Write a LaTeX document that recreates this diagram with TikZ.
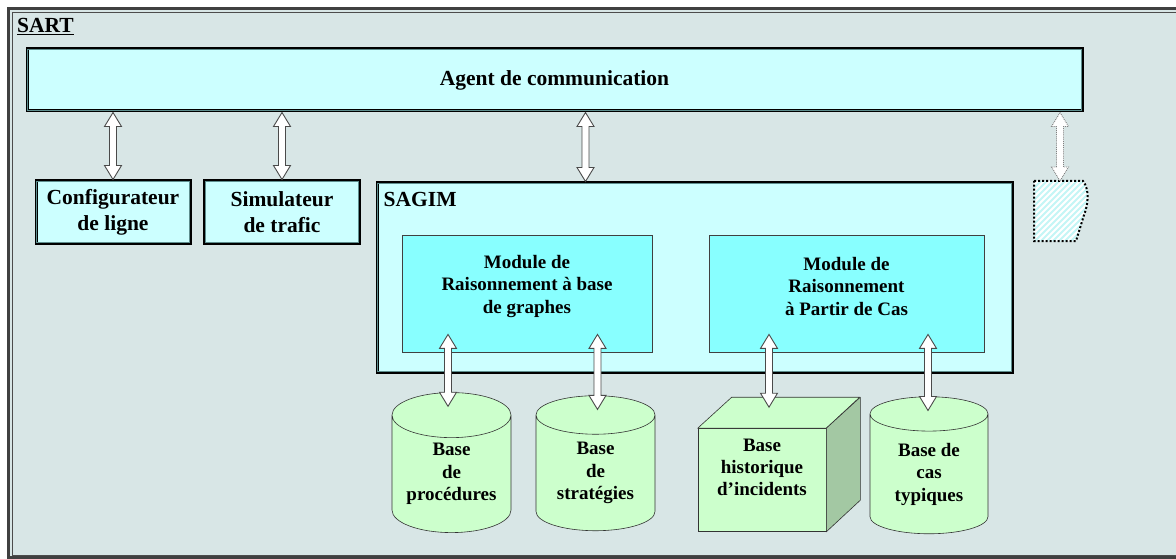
\documentclass[tikz,border=0pt]{standalone}
\usepackage{fontspec}
\setmainfont{Liberation Serif}
\usetikzlibrary{shapes.geometric,calc}
\definecolor{bgc}{HTML}{D8E6E6}
\definecolor{boxc}{HTML}{CCFFFF}
\definecolor{modc}{HTML}{88FFFF}
\definecolor{dbc}{HTML}{CCFFCC}
\definecolor{dbside}{HTML}{A3C8A3}
\definecolor{inl}{HTML}{5E8E8E}
\definecolor{arrl}{HTML}{4A4A4A}
\definecolor{hatchc}{HTML}{C4F6F6}
\tikzset{
  x=1pt, y=-1pt,
  bigfont/.style={font=\bfseries\fontsize{21.5}{26}\selectfont},
  smallfont/.style={font=\bfseries\fontsize{19}{22.5}\selectfont},
  dblbox/.style={draw=black, line width=3pt, fill=boxc, inner sep=0pt, bigfont, align=center},
  innerline/.style={draw=inl, line width=0.8pt},
  modbox/.style={draw=black!75, line width=0.8pt, fill=modc, inner sep=0pt},
  dbcyl/.style={cylinder, shape border rotate=90, aspect=0.5, draw=black!80, fill=dbc,
    line width=0.6pt, inner sep=0pt, smallfont, align=center},
  cubefront/.style={draw=black!80, fill=dbc, line width=0.6pt, inner sep=0pt,
    minimum width=128pt, minimum height=103pt},
  cubeface/.style={draw=black!80, line width=0.6pt, line join=round},
  blockarrow/.style={draw=arrl, line width=0.9pt, fill=white, line join=miter,
    to path={let \p1=(\tikztostart), \p2=(\tikztotarget) in
      (\x1,\y1) -- (\x1+8.5pt,\y1-14pt) -- (\x1+3.5pt,\y1-14pt) -- (\x1+3.5pt,\y2+14pt)
      -- (\x1+8.5pt,\y2+14pt) -- (\x1,\y2) -- (\x1-8.5pt,\y2+14pt) -- (\x1-3.5pt,\y2+14pt)
      -- (\x1-3.5pt,\y1-14pt) -- (\x1-8.5pt,\y1-14pt) -- cycle}},
  dotarrow/.style={blockarrow, draw=gray, densely dotted}
}
\begin{document}
\begin{tikzpicture}
\useasboundingbox (0,0) rectangle (1176,559);
% outer frame SART
\fill[bgc] (8,8) rectangle (1190,557);
\draw[draw=black!75, line width=2.5pt] (8.5,8.5) rectangle (1190,557.5);
\draw[draw=black!70, line width=0.8pt] (12,12) rectangle (1190,555.5);
\node[anchor=north west, bigfont, inner sep=0pt] (sart) at (17,18) {\underline{SART}};

% agent
\node[dblbox, minimum width=1055pt, minimum height=62pt] (agent) at (554.5,80) {Agent de communication};
% configurateur / simulateur
\node[dblbox, minimum width=154pt, minimum height=62pt] (conf) at (113,212) {Configurateur\\de ligne};
\node[dblbox, minimum width=155pt, minimum height=62pt] (simu) at (282,212) {Simulateur\\de trafic};
% SAGIM
\node[dblbox, minimum width=635pt, minimum height=189pt] (sagim) at (694.5,277.5) {};
\foreach \n in {agent,conf,simu,sagim}
  \draw[innerline] ([shift={(2.3,2.3)}]\n.north west) rectangle ([shift={(-2.3,-2.3)}]\n.south east);
\node[anchor=north west, bigfont, inner sep=0pt] (sagimlbl) at ([shift={(8,11)}]sagim.north west) {SAGIM};

% modules
\node[modbox, minimum width=250pt, minimum height=117pt,
  label={[smallfont, align=center, yshift=7pt]center:Module de\\Raisonnement à base\\de graphes}] (m1) at (527,293.5) {};
\node[modbox, minimum width=275pt, minimum height=117pt,
  label={[smallfont, align=center, yshift=7pt]center:Module de\\Raisonnement\\à Partir de Cas}] (m2) at (846.5,293.5) {};

% databases
\node[dbcyl, minimum width=119pt, minimum height=140pt] (c1) at (451.5,474) {Base\\de\\procédures};
\node[dbcyl, minimum width=119pt, minimum height=135pt] (c2) at (595.5,473) {Base\\de\\stratégies};
\node[dbcyl, minimum width=118pt, minimum height=137pt] (c4) at (929,474) {Base de\\cas\\typiques};

% cube
\node[cubefront, label={[smallfont, align=center, yshift=13pt, font=\bfseries\fontsize{19}{22}\selectfont]center:Base\\historique\\d’incidents}] (cube) at (762,480) {};
\draw[cubeface, fill=dbc] (cube.north west) -- ++(34,-31) -- ++(128,0) -- (cube.north east) -- cycle;
\draw[cubeface, fill=dbside] (cube.north east) -- ++(34,-31) -- ++(0,103) -- (cube.south east) -- cycle;

% external (dotted) component
\coordinate (ext) at (1060,181);
\fill[white] (1034,181) -- (1083,181) .. controls (1090,190) and (1088,205) .. (1084,215) -- (1076,241) -- (1034,241) -- cycle;
\begin{scope}
  \clip (1034,181) -- (1083,181) .. controls (1090,190) and (1088,205) .. (1084,215) -- (1076,241) -- (1034,241) -- cycle;
  \foreach \k in {0,6,...,180}
    \draw[hatchc, line width=1.8pt] (960+\k,250) -- ++(80,-80);
\end{scope}
\draw[black, line width=2pt, dotted] (1034,181) -- (1083,181) .. controls (1090,190) and (1088,205) .. (1084,215) -- (1076,241) -- (1034,241) -- cycle;

% arrows to agent
\draw[blockarrow] (agent.south -| conf.north) to (conf.north);
\draw[blockarrow] (agent.south -| simu.north) to (simu.north);
\coordinate (sagtop) at ([xshift=-109pt]sagim.north);
\draw[blockarrow] (agent.south -| sagtop) to (sagtop);
\draw[dotarrow] (agent.south -| ext) to (ext);

% arrows modules <-> databases
\draw[blockarrow] ([xshift=-3.5pt,yshift=18pt]m1.south -| c1.north) to ([yshift=-14pt]c1.north);
\draw[blockarrow] ([xshift=2pt,yshift=18pt]m1.south -| c2.north) to ([yshift=-14pt]c2.north);
\draw[blockarrow] ([xshift=7pt,yshift=18pt]m2.south -| cube.north) to ([yshift=21pt]cube.north);
\draw[blockarrow] ([xshift=-1pt,yshift=18pt]m2.south -| c4.north) to ([yshift=-14pt]c4.north);
\end{tikzpicture}
\end{document}
